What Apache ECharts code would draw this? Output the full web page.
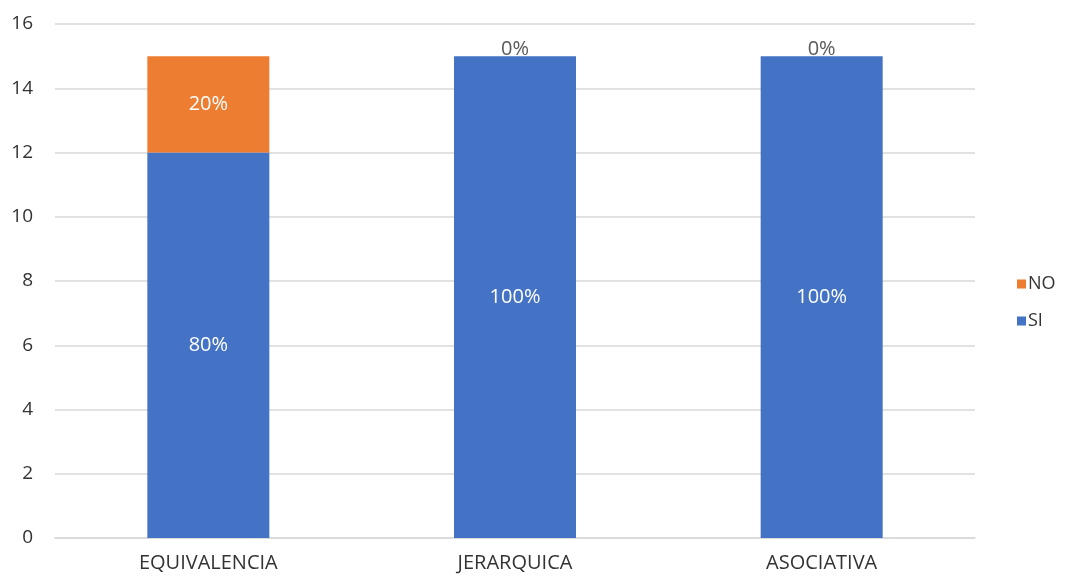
<!DOCTYPE html>
<html>
<head>
<meta charset="utf-8">
<script src="https://cdn.jsdelivr.net/npm/echarts@6/dist/echarts.min.js"></script>
<style>
html, body { margin: 0; padding: 0; background: #fff; }
#chart { width: 1068px; height: 579px; }
</style>
</head>
<body>
<div id="chart"></div>
<script>
// datos
var categories = ['EQUIVALENCIA', 'JERARQUICA', 'ASOCIATIVA'];
var siValues = [12, 15, 15];
var noValues = [3, 0, 0];
var siLabels = ['80%', '100%', '100%'];
var noLabels = ['20%', '0%', '0%'];
var yTicks = [0, 2, 4, 6, 8, 10, 12, 14, 16];

function buildData(values, labels) {
    var out = [];
    for (var i = 0; i < values.length; i++) {
        var item = { value: values[i], pct: labels[i] };
        if (values[i] === 0) {
            // etiqueta gris encima de la barra
            item.label = { position: 'top', color: '#595959', distance: -3 };
        }
        out.push(item);
    }
    return out;
}

var chart = echarts.init(document.getElementById('chart'));
var option = {
    animation: false,
    textStyle: { fontFamily: 'Open Sans, sans-serif' },
    grid: { left: 55, right: 93, top: 24, bottom: 41 },
    legend: {
        orient: 'vertical',
        left: 1012,
        top: 270,
        itemWidth: 9,
        itemHeight: 9,
        itemGap: 19,
        icon: 'rect',
        data: ['NO', 'SI'],
        textStyle: { fontSize: 18, color: '#333333', padding: [0, 0, 0, -3] }
    },
    xAxis: {
        type: 'category',
        data: categories,
        axisLine: { lineStyle: { color: '#d9d9d9', width: 1.5 } },
        axisTick: { show: false },
        axisLabel: { fontSize: 20, color: '#333333', margin: 15 }
    },
    yAxis: {
        type: 'value',
        min: yTicks[0],
        max: yTicks[yTicks.length - 1],
        interval: 2,
        axisLine: { show: false },
        axisTick: { show: false },
        axisLabel: { fontSize: 19, color: '#333333', margin: 22 },
        splitLine: { lineStyle: { color: '#d9d9d9', width: 1.5 } }
    },
    series: [
        {
            name: 'SI',
            type: 'bar',
            stack: 'total',
            barWidth: 122,
            itemStyle: { color: '#4472c4' },
            label: {
                show: true,
                position: 'inside',
                color: '#ffffff',
                fontSize: 20,
                formatter: function (p) { return p.data.pct; }
            },
            data: buildData(siValues, siLabels)
        },
        {
            name: 'NO',
            type: 'bar',
            stack: 'total',
            barWidth: 122,
            itemStyle: { color: '#ed7d31' },
            label: {
                show: true,
                position: 'inside',
                color: '#ffffff',
                fontSize: 20,
                formatter: function (p) { return p.data.pct; }
            },
            data: buildData(noValues, noLabels)
        }
    ]
};
chart.setOption(option);
</script>
</body>
</html>
